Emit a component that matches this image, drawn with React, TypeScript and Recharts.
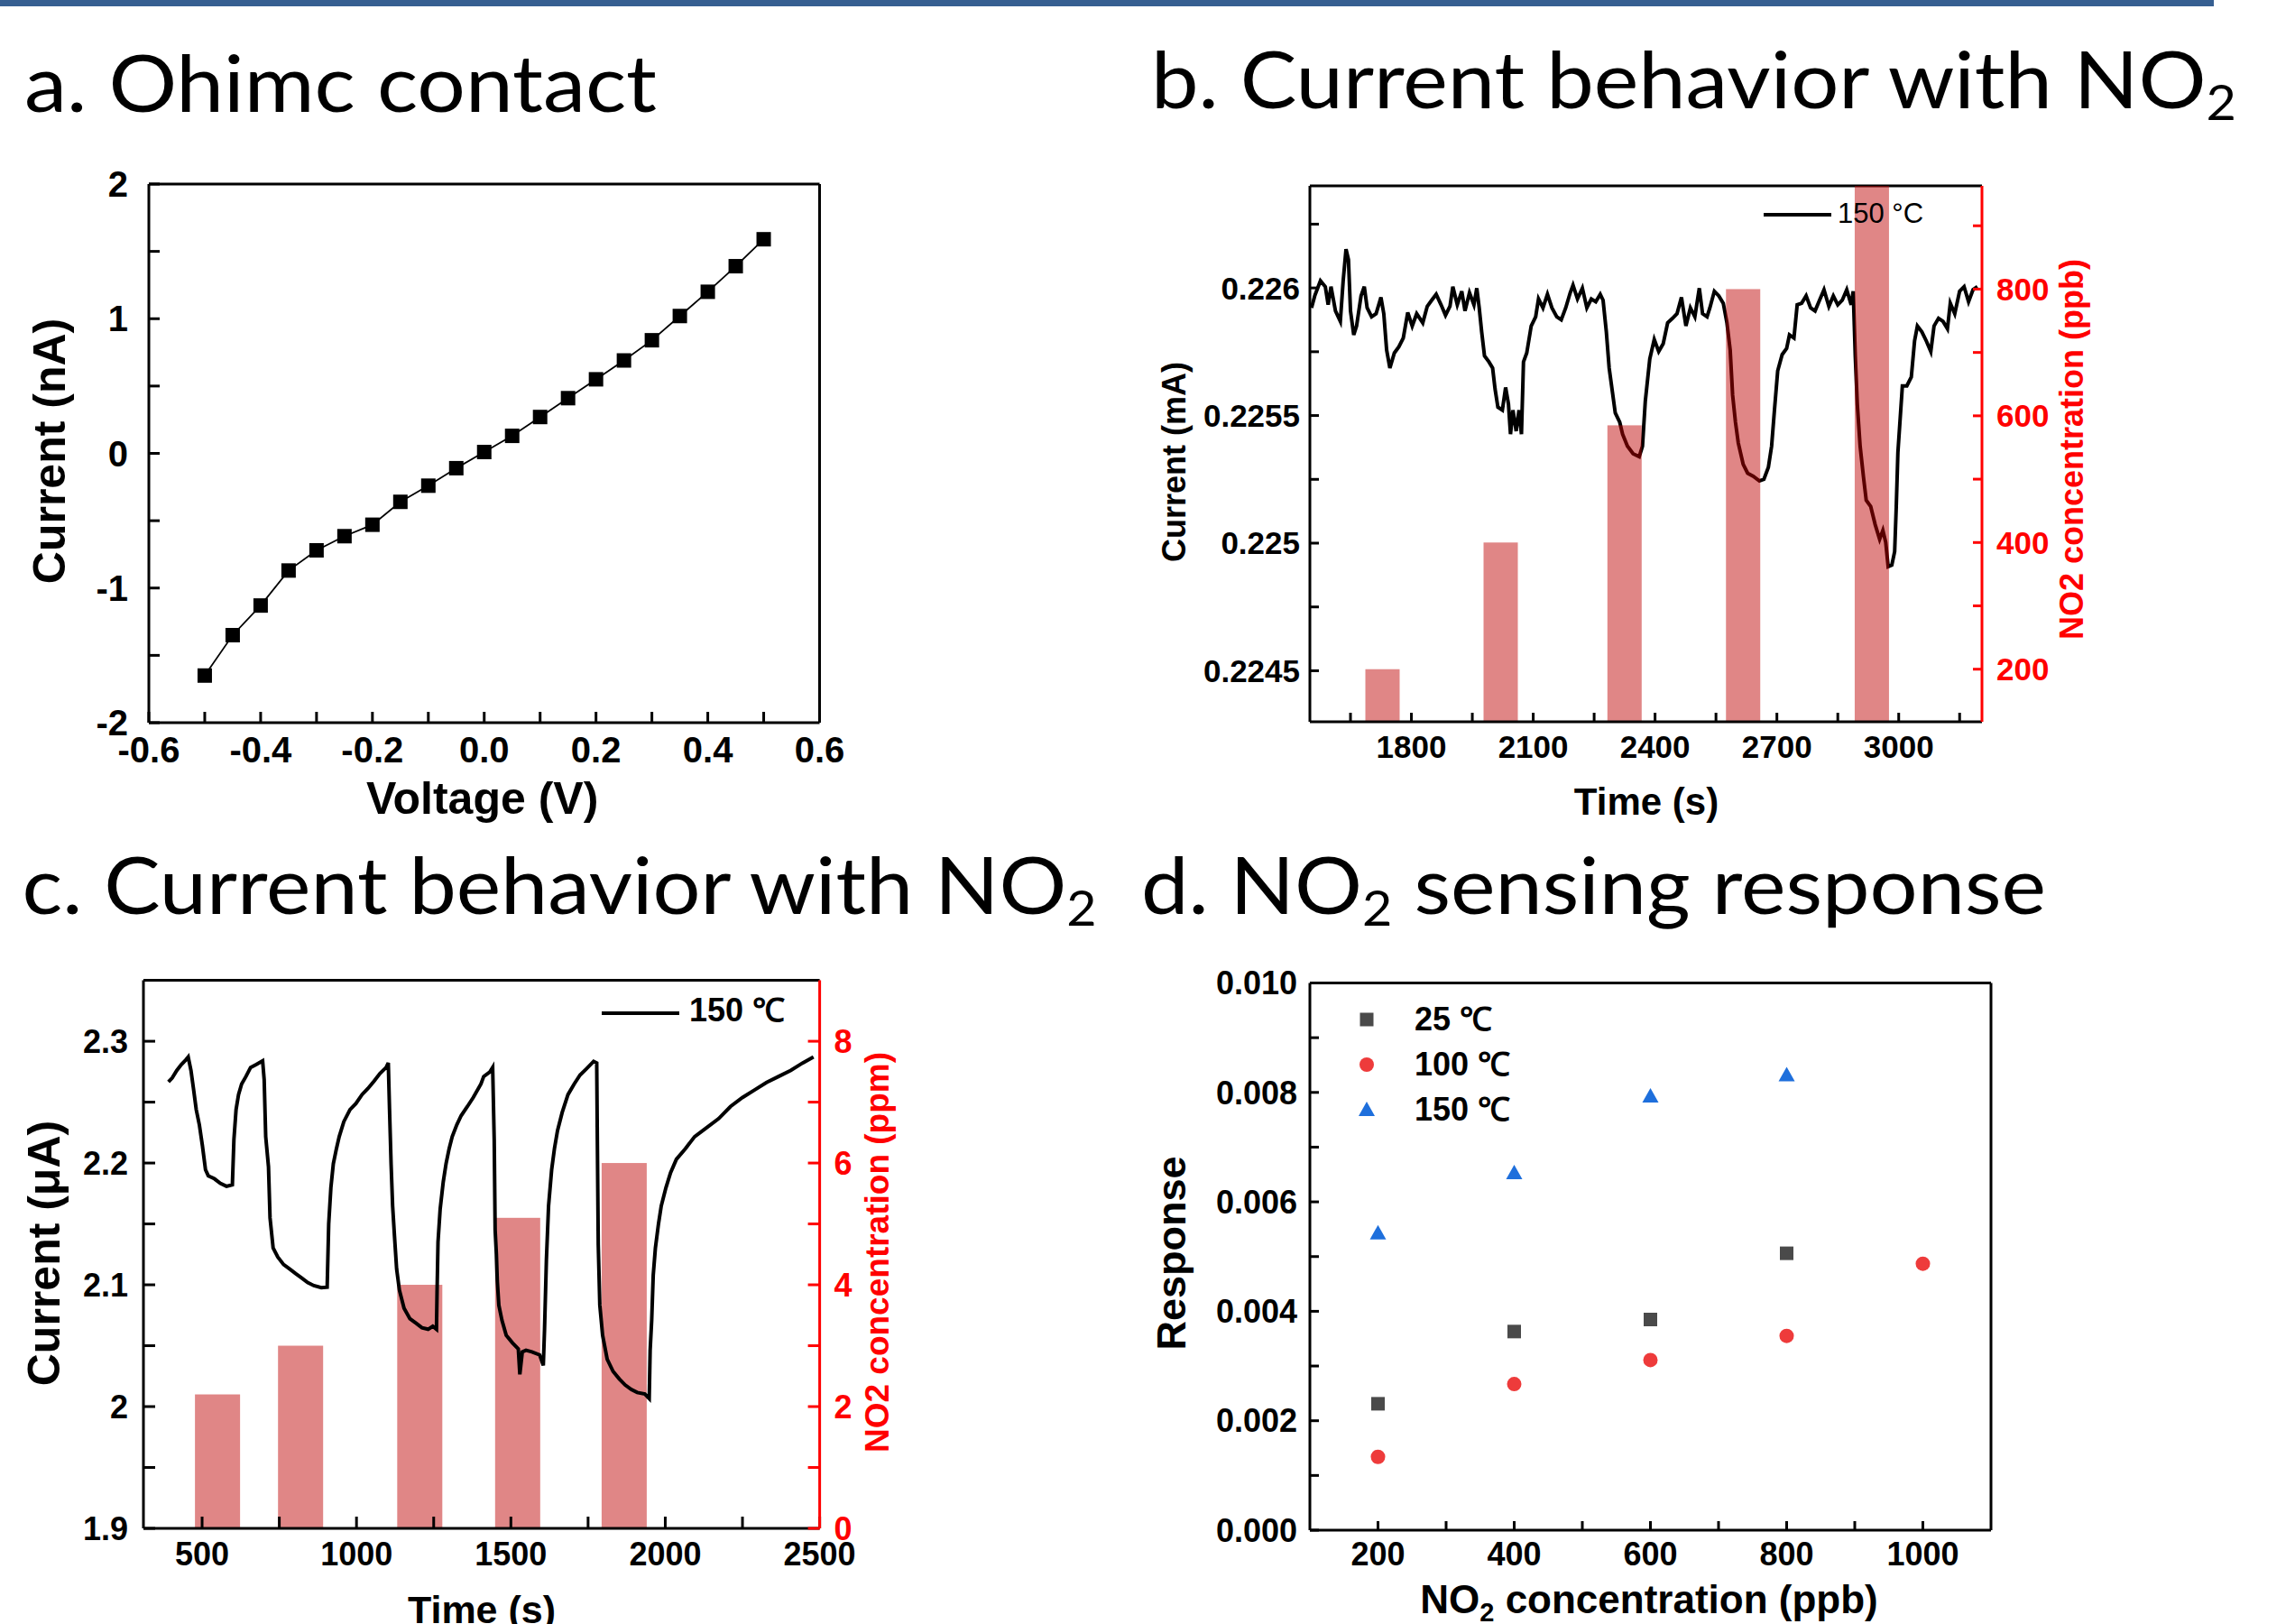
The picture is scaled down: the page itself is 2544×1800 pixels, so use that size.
import React from 'react';
import {
  LineChart, Line, XAxis, YAxis, ReferenceLine, ComposedChart, Bar, ScatterChart, Scatter, Legend,
} from 'recharts';

const FONT = '"Liberation Sans", Arial, Helvetica, sans-serif';
const TITLE_FONT = 'Lato, "Open Sans", sans-serif';
const RED = '#FF0000';

// ---------------- Panel a : I-V ----------------
const aVoltage = [-0.5, -0.45, -0.4, -0.35, -0.3, -0.25, -0.2, -0.15, -0.1, -0.05, 0, 0.05, 0.1, 0.15, 0.2, 0.25, 0.3, 0.35, 0.4, 0.45, 0.5];
const aCurrent = [-1.65, -1.35, -1.13, -0.87, -0.72, -0.615, -0.53, -0.36, -0.24, -0.11, 0.01, 0.13, 0.27, 0.41, 0.55, 0.69, 0.84, 1.02, 1.2, 1.39, 1.59];
const aXMajor = [-0.6, -0.4, -0.2, 0, 0.2, 0.4, 0.6];
const aXLabels = ['-0.6', '-0.4', '-0.2', '0.0', '0.2', '0.4', '0.6'];
const aXMinor = [-0.5, -0.3, -0.1, 0.1, 0.3, 0.5];
const aYMajor = [-2, -1, 0, 1, 2];
const aYLabels = ['-2', '-1', '0', '1', '2'];
const aYMinor = [-1.5, -0.5, 0.5, 1.5];

// ---------------- Panel b : current vs time (ppb) ----------------
const bTime = [
  1554, 1562, 1576, 1588, 1595, 1602, 1613, 1625, 1632, 1639,
  1645, 1650, 1658, 1665, 1676, 1684, 1691, 1702, 1713, 1725,
  1732, 1739, 1747, 1758, 1769, 1780, 1791, 1802, 1813, 1828,
  1839, 1850, 1861, 1873, 1884, 1895, 1902, 1913, 1924, 1932,
  1943, 1954, 1961, 1967, 1973, 1980, 1991, 2000, 2006, 2013,
  2024, 2032, 2039, 2044, 2050, 2058, 2065, 2071, 2076, 2084,
  2095, 2106, 2113, 2124, 2135, 2146, 2158, 2169, 2180, 2191,
  2198, 2209, 2221, 2232, 2243, 2254, 2265, 2272, 2280, 2287,
  2295, 2302, 2313, 2320, 2332, 2346, 2361, 2369, 2376, 2387,
  2398, 2409, 2420, 2431, 2443, 2454, 2465, 2476, 2487, 2498,
  2509, 2517, 2528, 2535, 2546, 2557, 2568, 2577, 2585, 2591,
  2598, 2605, 2617, 2628, 2642, 2657, 2668, 2679, 2687, 2694,
  2702, 2713, 2724, 2731, 2742, 2750, 2761, 2772, 2783, 2794,
  2805, 2816, 2828, 2839, 2850, 2861, 2872, 2883, 2888, 2893,
  2898, 2905, 2913, 2920, 2931, 2942, 2953, 2961, 2968, 2974,
  2983, 2990, 2994, 2998, 3004, 3009, 3020, 3031, 3039, 3046,
  3057, 3068, 3079, 3087, 3098, 3109, 3120, 3127, 3138, 3150,
  3161, 3172, 3183, 3194,
];
const bCurrent = [
  0.225922, 0.225969, 0.226028, 0.226005, 0.225934, 0.226005, 0.225910, 0.225869, 0.226028, 0.226152,
  0.226111, 0.225910, 0.225816, 0.225851, 0.225969, 0.226005, 0.225922, 0.225887, 0.225899, 0.225963,
  0.225899, 0.225757, 0.225686, 0.225745, 0.225769, 0.225804, 0.225904, 0.225851, 0.225899, 0.225863,
  0.225928, 0.225952, 0.225975, 0.225934, 0.225893, 0.225928, 0.226005, 0.225934, 0.225987, 0.225910,
  0.225981, 0.225934, 0.225999, 0.225922, 0.225828, 0.225734, 0.225710, 0.225686, 0.225604, 0.225533,
  0.225521, 0.225610, 0.225545, 0.225427, 0.225521, 0.225439, 0.225521, 0.225427, 0.225710, 0.225745,
  0.225851, 0.225887, 0.225957, 0.225922, 0.225975, 0.225922, 0.225887, 0.225875, 0.225922, 0.225981,
  0.226011, 0.225957, 0.225999, 0.225922, 0.225957, 0.225946, 0.225975, 0.225952, 0.225828, 0.225686,
  0.225592, 0.225510, 0.225474, 0.225427, 0.225380, 0.225350, 0.225339, 0.225380, 0.225557, 0.225722,
  0.225798, 0.225751, 0.225781, 0.225863, 0.225881, 0.225899, 0.225963, 0.225851, 0.225922, 0.225887,
  0.225999, 0.225899, 0.225887, 0.225922, 0.225987, 0.225969, 0.225940, 0.225863, 0.225757, 0.225580,
  0.225474, 0.225392, 0.225309, 0.225274, 0.225262, 0.225244, 0.225250, 0.225297, 0.225380, 0.225521,
  0.225675, 0.225739, 0.225763, 0.225816, 0.225804, 0.225934, 0.225940, 0.225969, 0.225922, 0.225910,
  0.225952, 0.225993, 0.225928, 0.225969, 0.225934, 0.225952, 0.225993, 0.225934, 0.225987, 0.225734,
  0.225545, 0.225380, 0.225262, 0.225168, 0.225144, 0.225073, 0.225015, 0.225050, 0.225003, 0.224908,
  0.224914, 0.224967, 0.225144, 0.225356, 0.225498, 0.225616, 0.225616, 0.225651, 0.225792, 0.225851,
  0.225828, 0.225792, 0.225751, 0.225851, 0.225881, 0.225869, 0.225840, 0.225940, 0.225899, 0.225987,
  0.226005, 0.225946, 0.225993, 0.226005,
];
const bBarTime = [1729, 2020, 2325, 2617, 2934];
const bBarConc = [200, 400, 585, 800, 1000];
const bXMajor = [1800, 2100, 2400, 2700, 3000];
const bXLabels = ['1800', '2100', '2400', '2700', '3000'];
const bXMinor = [1650, 1950, 2250, 2550, 2850, 3150];
const bYMajor = [0.2245, 0.225, 0.2255, 0.226];
const bYLabels = ['0.2245', '0.225', '0.2255', '0.226'];
const bYMinor = [0.22475, 0.22525, 0.22575, 0.22625];
const bRMajor = [200, 400, 600, 800];
const bRLabels = ['200', '400', '600', '800'];
const bRMinor = [300, 500, 700, 900];

// ---------------- Panel c : current vs time (ppm) ----------------
const cTime = [
  391, 403, 418, 433, 447, 455, 464, 472, 481, 491,
  501, 511, 520, 540, 559, 579, 598, 603, 610, 618,
  628, 642, 657, 676, 696, 701, 706, 715, 720, 730,
  745, 764, 784, 803, 823, 842, 862, 886, 905, 910,
  917, 925, 935, 944, 959, 979, 998, 1018, 1037, 1057,
  1076, 1096, 1103, 1107, 1112, 1117, 1123, 1130, 1139, 1154,
  1173, 1193, 1212, 1232, 1247, 1259, 1261, 1264, 1271, 1281,
  1290, 1300, 1310, 1325, 1339, 1359, 1378, 1403, 1412, 1432,
  1441, 1446, 1449, 1453, 1456, 1461, 1471, 1485, 1505, 1524,
  1529, 1537, 1549, 1568, 1593, 1605, 1609, 1615, 1622, 1632,
  1641, 1651, 1666, 1685, 1705, 1724, 1744, 1768, 1778, 1780,
  1783, 1788, 1797, 1812, 1831, 1851, 1870, 1890, 1909, 1934,
  1948, 1951, 1956, 1961, 1968, 1978, 1987, 2002, 2017, 2036,
  2065, 2095, 2134, 2173, 2211, 2250, 2289, 2328, 2367, 2406,
  2445, 2480,
];
const cCurrent = [
  2.26661, 2.26983, 2.27600, 2.28095, 2.28465, 2.28712, 2.27600, 2.26118, 2.24388, 2.23152,
  2.21423, 2.19446, 2.18952, 2.18705, 2.18334, 2.18087, 2.18211, 2.21917, 2.24388, 2.25624,
  2.26488, 2.27106, 2.27847, 2.28095, 2.28391, 2.26859, 2.22164, 2.19693, 2.15493, 2.13022,
  2.12280, 2.11662, 2.11292, 2.10921, 2.10550, 2.10180, 2.09933, 2.09760, 2.09809, 2.14998,
  2.17964, 2.19940, 2.21176, 2.22164, 2.23400, 2.24388, 2.24882, 2.25624, 2.26118, 2.26736,
  2.27353, 2.27847, 2.28218, 2.24388, 2.19940, 2.16481, 2.14010, 2.11292, 2.09562, 2.08080,
  2.07215, 2.06844, 2.06473, 2.06350, 2.06597, 2.06350, 2.09562, 2.13516, 2.16234, 2.18458,
  2.19940, 2.21176, 2.22164, 2.23152, 2.23894, 2.24635, 2.25376, 2.26488, 2.27106, 2.27477,
  2.27847, 2.21917, 2.14504, 2.12527, 2.10303, 2.08327, 2.07091, 2.05856, 2.05238, 2.04744,
  2.02643, 2.04497, 2.04620, 2.04497, 2.04250, 2.03385, 2.06350, 2.12033, 2.16481, 2.19446,
  2.21176, 2.22658, 2.24141, 2.25624, 2.26488, 2.27230, 2.27724, 2.28342, 2.28218, 2.21917,
  2.13269, 2.08327, 2.05856, 2.03879, 2.02890, 2.02272, 2.01778, 2.01408, 2.01161, 2.01037,
  2.00666, 2.04620, 2.07091, 2.10797, 2.13022, 2.14998, 2.16481, 2.17964, 2.19199, 2.20311,
  2.21176, 2.22164, 2.22905, 2.23647, 2.24635, 2.25376, 2.25994, 2.26612, 2.27106, 2.27600,
  2.28218, 2.28712,
];
const cBarTime = [550, 819, 1205, 1522, 1867];
const cBarConc = [2.2, 3.0, 4.0, 5.1, 6.0];
const cXMajor = [500, 1000, 1500, 2000, 2500];
const cXLabels = ['500', '1000', '1500', '2000', '2500'];
const cXMinor = [750, 1250, 1750, 2250];
const cYMajor = [1.9, 2.0, 2.1, 2.2, 2.3];
const cYLabels = ['1.9', '2', '2.1', '2.2', '2.3'];
const cYMinor = [1.95, 2.05, 2.15, 2.25];
const cRMajor = [0, 2, 4, 6, 8];
const cRLabels = ['0', '2', '4', '6', '8'];
const cRMinor = [1, 3, 5, 7];

// ---------------- Panel d : response ----------------
const dNames = ['25 ℃', '100 ℃', '150 ℃'];
const dConc25 = [200, 400, 600, 800];
const dResp25 = [0.00231, 0.00363, 0.00385, 0.00506];
const dConc100 = [200, 400, 600, 800, 1000];
const dResp100 = [0.00134, 0.00267, 0.00311, 0.00355, 0.00487];
const dConc150 = [200, 400, 600, 800];
const dResp150 = [0.00543, 0.00653, 0.00793, 0.00832];
const dXMajor = [200, 400, 600, 800, 1000];
const dXLabels = ['200', '400', '600', '800', '1000'];
const dXMinor = [300, 500, 700, 900];
const dYMajor = [0, 0.002, 0.004, 0.006, 0.008, 0.01];
const dYLabels = ['0.000', '0.002', '0.004', '0.006', '0.008', '0.010'];
const dYMinor = [0.001, 0.003, 0.005, 0.007, 0.009];

// ---------------- helpers ----------------
const merge = (a: number[], b: number[]) => [...a, ...b].sort((x, y) => x - y);
const fmt = (majors: number[], labels: string[]) => (v: number) => {
  const k = majors.findIndex((m) => Math.abs(m - v) < 1e-9);
  return k >= 0 ? labels[k] : '';
};
function axisProps(fontSize: number, tickLen: number, gap: number, color = '#000', weight = 700) {
  return {
    stroke: color,
    axisLine: { stroke: color, strokeWidth: 3 },
    tickLine: { stroke: color, strokeWidth: 3 },
    tickSize: -tickLen,
    tickMargin: tickLen + gap,
    tick: { fill: color, fontSize, fontWeight: weight, fontFamily: FONT },
    interval: 0 as const,
  };
}
function axisTitle(x: number, y: number, text: React.ReactNode, fontSize: number, rotate = false, color = '#000') {
  return {
    content: () => (
      <text
        x={x}
        y={y}
        textAnchor="middle"
        fontSize={fontSize}
        fontWeight={700}
        fontFamily={FONT}
        fill={color}
        transform={rotate ? `rotate(-90 ${x} ${y})` : undefined}
      >
        {text}
      </text>
    ),
  };
}
function lineLegend(fontSize: number, weight: number, x1: number, x2: number, tx: number) {
  return (props: any) => {
    const item = (props.payload || [])[0];
    if (!item) return null;
    return (
      <svg width={240} height={50} style={{ display: 'block', overflow: 'visible' }}>
        <line x1={x1} x2={x2} y1={28} y2={28} stroke="#000" strokeWidth={4} />
        <text x={tx} y={37} fontSize={fontSize} fontWeight={weight} fontFamily={FONT} fill="#000">
          {item.value}
        </text>
      </svg>
    );
  };
}
// bar drawn centred on the scaled x position given by the library, fixed pixel width
function fixedBar(w: number, fill: string, opacity: number) {
  return (p: any) => {
    if (p.height == null || p.x == null) return <g />;
    const cx = p.x + (p.width || 0) / 2;
    const y = Math.min(p.y, p.y + p.height);
    const h = Math.abs(p.height);
    return <rect x={cx - w / 2} y={y} width={w} height={h} fill={fill} fillOpacity={opacity} />;
  };
}

const aData = aVoltage.map((v, k) => ({ v, i: aCurrent[k] }));
const bLine = bTime.map((t, k) => ({ t, i: bCurrent[k] }));
const bBars = bBarTime.map((t, k) => ({ t, c: bBarConc[k] }));
const cLine = cTime.map((t, k) => ({ t, i: cCurrent[k] }));
const cBars = cBarTime.map((t, k) => ({ t, c: cBarConc[k] }));
const d25 = dConc25.map((x, k) => ({ x, y: dResp25[k] }));
const d100 = dConc100.map((x, k) => ({ x, y: dResp100[k] }));
const d150 = dConc150.map((x, k) => ({ x, y: dResp150[k] }));

const C25 = '#4A4A4A';
const C100 = '#EE3B3B';
const C150 = '#1E6FDC';

const squareDot = (p: any) => (
  <rect key={`sq${p.index}`} x={p.cx - 8} y={p.cy - 8} width={16} height={16} fill="#000" />
);
const sym = (type: string, cx: number, cy: number, color: string) => {
  if (type === 'square') return <rect x={cx - 7.5} y={cy - 7.5} width={15} height={15} fill={color} />;
  if (type === 'circle') return <circle cx={cx} cy={cy} r={8} fill={color} />;
  return <polygon points={`${cx},${cy - 9} ${cx + 9},${cy + 7} ${cx - 9},${cy + 7}`} fill={color} />;
};

function PanelA() {
  return (
    <LineChart width={1000} height={800} data={aData} margin={{ top: 54, right: 91.5, bottom: 49, left: 65 }}>
      <XAxis
        type="number" dataKey="v" domain={[-0.6, 0.6]} ticks={merge(aXMajor, aXMinor)}
        tickFormatter={fmt(aXMajor, aXLabels)} height={100} {...axisProps(40, 12, 16)}
        label={axisTitle(534.6, 752, 'Voltage (V)', 50)}
      />
      <YAxis
        type="number" domain={[-2, 2]} ticks={merge(aYMajor, aYMinor)}
        tickFormatter={fmt(aYMajor, aYLabels)} width={100} {...axisProps(40, 12, 23)}
        label={axisTitle(72, 350, 'Current (nA)', 50, true)}
      />
      <ReferenceLine y={2} stroke="#000" strokeWidth={3} />
      <ReferenceLine x={0.6} stroke="#000" strokeWidth={3} />
      <Line dataKey="i" stroke="#000" strokeWidth={1.8} dot={squareDot} isAnimationActive={false} />
    </LineChart>
  );
}

function PanelB() {
  return (
    <ComposedChart width={1264} height={800} data={bBars} margin={{ top: 56, right: 217, bottom: 50, left: 40 }}>
      <XAxis
        type="number" dataKey="t" domain={[1550, 3205]} ticks={merge(bXMajor, bXMinor)}
        tickFormatter={fmt(bXMajor, bXLabels)} height={100} {...axisProps(35, 10, 15)}
        label={axisTitle(545, 752.6, 'Time (s)', 42)}
      />
      <YAxis
        yAxisId="left" type="number" domain={[0.2243, 0.2264]} allowDataOverflow ticks={merge(bYMajor, bYMinor)}
        tickFormatter={fmt(bYMajor, bYLabels)} width={132} {...axisProps(35, 10, 11)}
        label={axisTitle(34.4, 362, 'Current (mA)', 36, true)}
      />
      <YAxis
        yAxisId="right" orientation="right" type="number" domain={[117, 963]} allowDataOverflow
        ticks={merge(bRMajor, bRMinor)} tickFormatter={fmt(bRMajor, bRLabels)} width={130}
        {...axisProps(35, 10, 16, RED)}
        label={axisTitle(1029.4, 348, 'NO2 concentration (ppb)', 36, true, RED)}
      />
      <ReferenceLine yAxisId="left" y={0.2264} stroke="#000" strokeWidth={3} />
      <Line
        yAxisId="left" data={bLine} dataKey="i" name="150 °C" stroke="#000" strokeWidth={4}
        dot={false} isAnimationActive={false}
      />
      <Bar
        yAxisId="right" dataKey="c" barSize={38} fill="#BD0000" fillOpacity={0.475}
        shape={fixedBar(38, '#BD0000', 0.475)}
        isAnimationActive={false} legendType="none" {...({ zIndex: 450 } as any)}
      />
      <Legend
        layout="horizontal" verticalAlign="middle" align="center"
        wrapperStyle={{ left: 670, top: 60, width: 240, height: 50 }}
        content={lineLegend(31, 400, 5, 80, 87)}
      />
    </ComposedChart>
  );
}

function PanelC() {
  return (
    <ComposedChart width={1100} height={800} data={cBars} margin={{ top: 86.6, right: 71.4, bottom: 6, left: 30 }}>
      <XAxis
        type="number" dataKey="t" domain={[310, 2500]} ticks={merge(cXMajor, cXMinor)}
        tickFormatter={fmt(cXMajor, cXLabels)} height={100} {...axisProps(36, 13, 15)}
        label={axisTitle(534, 798.8, 'Time (s)', 43)}
      />
      <YAxis
        yAxisId="left" type="number" domain={[1.9, 2.35]} allowDataOverflow ticks={merge(cYMajor, cYMinor)}
        tickFormatter={fmt(cYMajor, cYLabels)} width={129} {...axisProps(36, 13, 17)}
        label={axisTitle(65.5, 389, 'Current (μA)', 50, true)}
      />
      <YAxis
        yAxisId="right" orientation="right" type="number" domain={[0, 9]} allowDataOverflow
        ticks={merge(cRMajor, cRMinor)} tickFormatter={fmt(cRMajor, cRLabels)} width={120}
        {...axisProps(36, 13, 16, RED)}
        label={axisTitle(985, 388, 'NO2 concentration (ppm)', 37, true, RED)}
      />
      <ReferenceLine yAxisId="left" y={2.35} stroke="#000" strokeWidth={3} />
      <Bar
        yAxisId="right" dataKey="c" barSize={50} fill="#E08686"
        shape={fixedBar(50, '#E08686', 1)}
        isAnimationActive={false} legendType="none"
      />
      <Line
        yAxisId="left" data={cLine} dataKey="i" name="150 ℃" stroke="#000" strokeWidth={4}
        dot={false} isAnimationActive={false}
      />
      <Legend
        layout="horizontal" verticalAlign="middle" align="center"
        wrapperStyle={{ left: 660, top: 95, width: 240, height: 50 }}
        content={lineLegend(36, 700, 7, 93, 104)}
      />
    </ComposedChart>
  );
}

function PanelD() {
  const legend = (props: any) => {
    const items = props.payload || [];
    return (
      <svg width={240} height={160} style={{ display: 'block', overflow: 'visible' }}>
        {dNames.map((name, k) => {
          const it = items.find((p: any) => p.value === name);
          if (!it) return null;
          const cy = 30 + 50 * k;
          return (
            <g key={name}>
              {sym(it.type, 25, cy, it.color)}
              <text x={78} y={cy + 12} fontSize={36} fontWeight={700} fontFamily={FONT} fill="#000">
                {name}
              </text>
            </g>
          );
        })}
      </svg>
    );
  };
  return (
    <ScatterChart width={1264} height={800} margin={{ top: 89.5, right: 337, bottom: 4, left: 40 }}>
      <XAxis
        type="number" dataKey="x" domain={[100, 1100]} ticks={merge(dXMajor, dXMinor)}
        tickFormatter={fmt(dXMajor, dXLabels)} height={100} {...axisProps(36, 10, 13)}
        label={axisTitle(548, 788, (
          <>
            <tspan>NO</tspan>
            <tspan fontSize={29} dy={9}>2</tspan>
            <tspan dy={-9}> concentration (ppb)</tspan>
          </>
        ), 44)}
      />
      <YAxis
        type="number" dataKey="y" domain={[0, 0.01]} ticks={merge(dYMajor, dYMinor)}
        tickFormatter={fmt(dYMajor, dYLabels)} width={132} {...axisProps(36, 10, 14)}
        label={axisTitle(34, 389, 'Response', 45, true)}
      />
      <ReferenceLine y={0.01} stroke="#000" strokeWidth={3} />
      <ReferenceLine x={1100} stroke="#000" strokeWidth={3} />
      <Scatter
        name={dNames[0]} data={d25} fill={C25} legendType="square" isAnimationActive={false}
        shape={(p: any) => sym('square', p.cx, p.cy, C25)}
      />
      <Scatter
        name={dNames[1]} data={d100} fill={C100} legendType="circle" isAnimationActive={false}
        shape={(p: any) => sym('circle', p.cx, p.cy, C100)}
      />
      <Scatter
        name={dNames[2]} data={d150} fill={C150} legendType="triangle" isAnimationActive={false}
        shape={(p: any) => sym('triangle', p.cx, p.cy, C150)}
      />
      <Legend
        layout="horizontal" verticalAlign="middle" align="center"
        wrapperStyle={{ left: 210, top: 100, width: 240, height: 160 }}
        content={legend}
      />
    </ScatterChart>
  );
}

function Titles() {
  const t = { fontSize: 88, fontFamily: TITLE_FONT, fill: '#000', lengthAdjust: 'spacingAndGlyphs' as const };
  return (
    <svg width={2544} height={1800} style={{ position: 'absolute', left: 0, top: 0 }}>
      <rect x={0} y={0} width={2454} height={7} fill="#365F91" />
      <text x={27} y={124} textLength={701} {...t}>a. Ohimc contact</text>
      <text x={1276} y={120} textLength={1203} {...t}>
        b. Current behavior with NO<tspan fontSize={54} dy={13}>2</tspan>
      </text>
      <text x={24.5} y={1013} textLength={1191} {...t}>
        c. Current behavior with NO<tspan fontSize={54} dy={13}>2</tspan>
      </text>
      <text x={1265} y={1013} textLength={1003} {...t}>
        d. NO<tspan fontSize={54} dy={13}>2</tspan><tspan dy={-13}> sensing response</tspan>
      </text>
    </svg>
  );
}

export default function App() {
  return (
    <div style={{ position: 'absolute', left: 0, top: 0, width: 2544, height: 1800, background: '#fff', overflow: 'hidden' }}>
      <Titles />
      <div style={{ position: 'absolute', left: 0, top: 150 }}><PanelA /></div>
      <div style={{ position: 'absolute', left: 1280, top: 150 }}><PanelB /></div>
      <div style={{ position: 'absolute', left: 0, top: 1000 }}><PanelC /></div>
      <div style={{ position: 'absolute', left: 1280, top: 1000 }}><PanelD /></div>
    </div>
  );
}
